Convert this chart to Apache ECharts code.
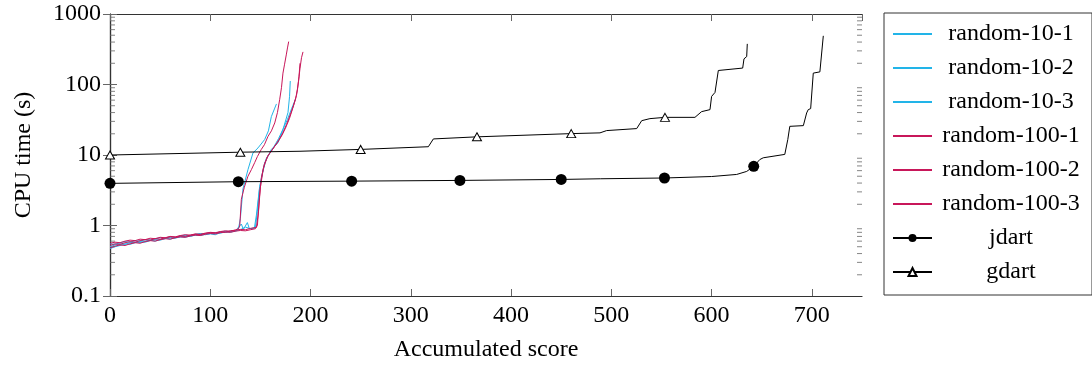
<!DOCTYPE html>
<html><head><meta charset="utf-8">
<script src="https://cdn.jsdelivr.net/npm/echarts@6/dist/echarts.min.js"></script>
<style>html,body{margin:0;padding:0;background:#fff}#c{width:1092px;height:367px}</style>
</head><body><div id="c"></div>
<script>
const xTickStep = 100;
const yTickLabels = ['0.1', '1', '10', '100', '1000'];
const yMinorTicks = [0.2,0.3,0.4,0.5,0.6,0.7,0.8,0.9, 2,3,4,5,6,7,8,9, 20,30,40,50,60,70,80,90, 200,300,400,500,600,700,800,900];
const seriesNames = ['random-10-1','random-10-2','random-10-3','random-100-1','random-100-2','random-100-3','jdart','gdart'];

const random10_1 = [[0,0.50],[5,0.53],[10,0.55],[15,0.54],[20,0.57],[25,0.58],[30,0.57],[35,0.60],[40,0.62],[45,0.60],[50,0.63],[55,0.66],[60,0.64],[65,0.67],[70,0.69],[75,0.68],[80,0.71],[85,0.73],[90,0.72],[95,0.75],[100,0.76],[105,0.74],[110,0.79],[115,0.80],[120,0.83],[125,0.82],[128,0.88],[130,1.25],[132.6,3.3],[137.6,6.2],[142.6,10.7],[147.6,12.6],[154.3,16.6],[158,22],[160.9,35],[164,45],[166,53]];
const random10_2 = [[0,0.47],[5,0.50],[10,0.52],[15,0.55],[20,0.54],[25,0.57],[30,0.59],[35,0.58],[40,0.61],[45,0.63],[50,0.62],[55,0.65],[60,0.67],[65,0.66],[70,0.69],[75,0.71],[80,0.70],[85,0.73],[90,0.75],[95,0.74],[100,0.77],[105,0.79],[110,0.78],[115,0.81],[120,0.80],[125,0.84],[131,1.05],[133,0.88],[137,1.1],[139,0.9],[144,0.92],[146,1.4],[149.3,3.6],[154.3,7.8],[160.9,12.0],[167.5,14.9],[172.5,22.9],[177.5,40],[179.1,68],[179.8,112]];
const random10_3 = [[0,0.55],[5,0.54],[10,0.57],[15,0.59],[20,0.58],[25,0.61],[30,0.60],[35,0.63],[40,0.62],[45,0.65],[50,0.67],[55,0.66],[60,0.69],[65,0.68],[70,0.71],[75,0.73],[80,0.72],[85,0.75],[90,0.77],[95,0.76],[100,0.79],[105,0.78],[110,0.81],[115,0.83],[120,0.82],[125,0.85],[130,0.87],[135,0.95],[140,0.90],[145,0.93],[147,1.6],[149,3.2],[152,5.5],[156,9],[162,12],[168,17],[173,24],[177,32],[181,45],[185,62]];
const random100_1 = [[0,0.52],[5,0.55],[10,0.54],[15,0.57],[20,0.59],[25,0.58],[30,0.61],[35,0.63],[40,0.62],[45,0.65],[50,0.64],[55,0.67],[60,0.69],[65,0.68],[70,0.71],[75,0.70],[80,0.73],[85,0.75],[90,0.74],[95,0.77],[100,0.79],[105,0.78],[110,0.81],[115,0.80],[120,0.84],[125,0.86],[128,0.90],[129.4,0.98],[131,2.35],[134,3.5],[137.6,5.0],[141,6.2],[144.3,7.8],[147,9.5],[150.9,12],[154,14],[157.6,18.4],[161,22],[164.3,28.5],[167,40],[169.2,60.8],[171,90],[172.5,145],[174,190],[175.8,263],[177,330],[178.2,406]];
const random100_2 = [[0,0.48],[5,0.51],[10,0.53],[15,0.52],[20,0.55],[25,0.57],[30,0.56],[35,0.59],[40,0.61],[45,0.60],[50,0.63],[55,0.65],[60,0.64],[65,0.67],[70,0.69],[75,0.68],[80,0.71],[85,0.73],[90,0.72],[95,0.75],[100,0.77],[105,0.76],[110,0.79],[115,0.81],[120,0.80],[125,0.83],[130,0.85],[135,0.84],[140,0.87],[145,0.90],[147,1.0],[149,2.5],[151,4.8],[154,7.5],[158,10],[163,12.5],[168,16],[172,20],[176,27],[180,38],[183,50],[186,70],[188,110],[189.5,170],[191,240],[192.5,290]];
const random100_3 = [[0,0.56],[5,0.58],[10,0.57],[15,0.60],[20,0.62],[25,0.61],[30,0.64],[35,0.63],[40,0.66],[45,0.65],[50,0.68],[55,0.67],[60,0.70],[65,0.69],[70,0.72],[75,0.74],[80,0.73],[85,0.76],[90,0.75],[95,0.78],[100,0.80],[105,0.79],[110,0.82],[115,0.84],[120,0.83],[125,0.86],[130,0.88],[135,0.87],[140,0.91],[146,0.94],[148,1.5],[150,3.5],[153,6.5],[157,9.5],[162,12],[167,15],[171,18.5],[175,24],[179,33],[182,45],[185,62],[187,85],[188.5,130],[189.5,200]];
const jdart = [[0,3.96],[128,4.18],[241,4.26],[349,4.36],[450,4.5],[489,4.6],[553,4.72],[600,4.95],[625,5.3],[635,5.85],[642,6.9],[648,8.6],[651.5,9.13],[673,10.2],[676,16.6],[678,25.5],[691.5,26.1],[694.8,39.5],[696.4,44],[698.8,45.5],[701.4,145],[708,151],[711.4,490]];
const jdartMarked = [0, 128, 241, 349, 450, 553, 642];
const gdart = [[0,10.0],[130,10.96],[189.5,11.3],[250,12.0],[317.5,13.1],[322.5,16.9],[366,18.1],[460,20.1],[488.7,20.6],[495.3,22.2],[525.3,23.7],[530.3,30.7],[538.5,32.8],[553.5,34.2],[583.4,34.2],[590,41.2],[598.4,44],[600,67.8],[603.4,77.2],[606.7,158],[631,171],[632.3,231],[635,249],[635.6,377]];
const gdartMarked = [0, 130, 250, 366, 460, 553.5];

const FONT = 'Liberation Serif';
const CYAN = '#22b4e8';
const RED = '#c8175a';
const tickColor = '#666';
const frameColor = '#333';

function lineSeries(name, data, color) {
  return {
    name, type: 'line', data, symbol: 'none', showSymbol: false,
    lineStyle: { color, width: 1 }, itemStyle: { color },
    xAxisIndex: 0, yAxisIndex: 0
  };
}
function markedData(data, marks) {
  return data.map(p => marks.indexOf(p[0]) >= 0 ? { value: p } : { value: p, symbol: 'none' });
}
function minorTickSeries(xv, offset) {
  return {
    type: 'scatter', silent: true, clip: false, z: 1,
    data: yMinorTicks.map(v => [xv, v]),
    symbol: 'rect', symbolSize: [5, 1], symbolOffset: [offset, 0],
    itemStyle: { color: tickColor }, xAxisIndex: 0, yAxisIndex: 0
  };
}
function yAx(position, labels) {
  return {
    type: 'log', logBase: 10, min: 0.1, max: 1000, position,
    axisLine: { show: true, lineStyle: { color: frameColor, width: 1.2 } },
    axisTick: { show: true, inside: true, length: 7, lineStyle: { color: tickColor, width: 1 } },
    axisLabel: labels ? { show: true, fontFamily: FONT, fontSize: 24, color: '#000', margin: 9,
      formatter: v => yTickLabels[Math.round(Math.log10(v)) + 1] } : { show: false },
    splitLine: { show: false },
    name: labels ? 'CPU time (s)' : '',
    nameLocation: 'middle', nameGap: 74, nameRotate: 90,
    nameTextStyle: { fontFamily: FONT, fontSize: 24, color: '#000' }
  };
}
function xAx(position, labels) {
  return {
    type: 'value', min: 0, max: 750, interval: xTickStep, position,
    axisLine: { show: true, onZero: false, lineStyle: { color: frameColor, width: 1.2 } },
    axisTick: { show: true, inside: true, length: 7, lineStyle: { color: tickColor, width: 1 } },
    axisLabel: labels ? { show: true, showMaxLabel: false, fontFamily: FONT, fontSize: 24, color: '#000', margin: 8 } : { show: false },
    splitLine: { show: false },
    name: labels ? 'Accumulated score' : '',
    nameLocation: 'middle', nameGap: 42,
    nameTextStyle: { fontFamily: FONT, fontSize: 24, color: '#000' }
  };
}

const chart = echarts.init(document.getElementById('c'));
chart.setOption({
  animation: false,
  backgroundColor: '#fff',
  grid: { left: 110, right: 230, top: 14, bottom: 70, show: false },
  xAxis: [xAx('bottom', true), xAx('top', false)],
  yAxis: [yAx('left', true), yAx('right', false)],
  legend: {
    data: seriesNames.map((n, i) => i < 6 ? { name: n, itemStyle: { opacity: 0 } } : { name: n }),
    orient: 'vertical', left: 884, top: 13,
    itemWidth: 39, itemHeight: 10, itemGap: 10,
    padding: [9, 7, 11, 8],
    borderColor: '#333', borderWidth: 1, borderRadius: 0,
    formatter: n => '{a|' + n + '}',
    textStyle: { fontFamily: FONT, fontSize: 24, color: '#000',
      rich: { a: { width: 148, align: 'center', lineHeight: 20, fontFamily: FONT, fontSize: 24, color: '#000' } } },
    selectedMode: false
  },
  series: [
    lineSeries(seriesNames[0], random10_1, CYAN),
    lineSeries(seriesNames[1], random10_2, CYAN),
    lineSeries(seriesNames[2], random10_3, CYAN),
    lineSeries(seriesNames[3], random100_1, RED),
    lineSeries(seriesNames[4], random100_2, RED),
    lineSeries(seriesNames[5], random100_3, RED),
    {
      name: seriesNames[6], type: 'line', data: markedData(jdart, jdartMarked),
      symbol: 'circle', symbolSize: 11, showSymbol: true,
      lineStyle: { color: '#000', width: 1 }, itemStyle: { color: '#000' }, z: 3
    },
    {
      name: seriesNames[7], type: 'line', data: markedData(gdart, gdartMarked),
      symbol: 'triangle', symbolSize: [9, 8], showSymbol: true,
      lineStyle: { color: '#000', width: 1 }, itemStyle: { color: '#fff', borderColor: '#000', borderWidth: 1 }, z: 3
    },
    minorTickSeries(0, 2.5),
    minorTickSeries(750, -2.5)
  ]
});
</script></body></html>
